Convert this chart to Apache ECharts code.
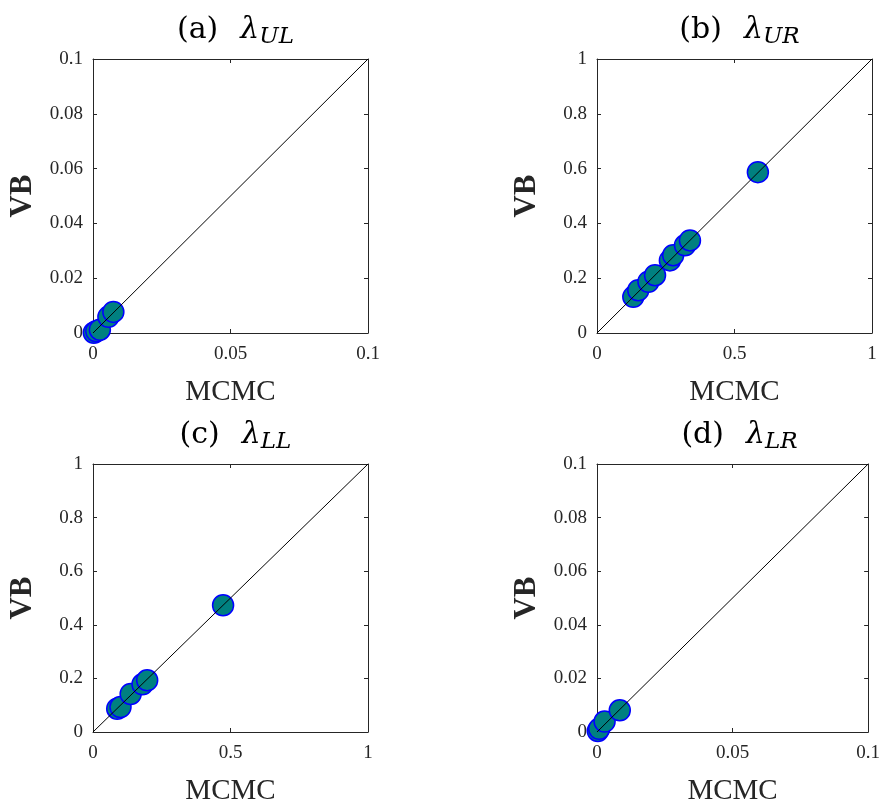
<!DOCTYPE html>
<html>
<head>
<meta charset="utf-8">
<script src="https://cdn.jsdelivr.net/npm/echarts@6/dist/echarts.min.js"></script>
<style>html,body{margin:0;padding:0;background:#fff}#c{width:883px;height:807px}</style>
</head>
<body>
<div id="c"></div>
<script>
// ---- data ----
const panelLetters = ['(a)', '(b)', '(c)', '(d)'];
const panelSubs = ['UL', 'UR', 'LL', 'LR'];
const axisMax = [0.1, 1, 1, 0.1];
const xTickStep = [0.05, 0.5, 0.5, 0.05];
const yTickStep = [0.02, 0.2, 0.2, 0.02];

const mcmcUL = [0.0003, 0.0012, 0.0025, 0.0056, 0.0074];
const vbUL   = [0.0001, 0.0006, 0.0012, 0.0059, 0.0077];

const mcmcUR = [0.132, 0.150, 0.187, 0.211, 0.265, 0.277, 0.320, 0.338, 0.585];
const vbUR   = [0.132, 0.156, 0.187, 0.211, 0.265, 0.284, 0.320, 0.338, 0.587];

const mcmcLL = [0.088, 0.100, 0.137, 0.180, 0.197, 0.473];
const vbLL   = [0.087, 0.093, 0.142, 0.178, 0.193, 0.473];

const mcmcLR = [0.0003, 0.0008, 0.0028, 0.0084];
const vbLR   = [0.0004, 0.0012, 0.0039, 0.0081];

const mcmcAll = [mcmcUL, mcmcUR, mcmcLL, mcmcLR];
const vbAll = [vbUL, vbUR, vbLL, vbLR];

// ---- layout ----
const grids = [
  {left: 93, top: 59, width: 275, height: 274},
  {left: 597, top: 59, width: 275, height: 274},
  {left: 93, top: 464, width: 275, height: 275},
  {left: 597, top: 464, width: 275, height: 275}
];

const axisCol = '#262626';
const serif = 'Liberation Serif';
const titleFont = 'DejaVu Serif';

const option = {
  animation: false,
  backgroundColor: '#fff',
  title: [], grid: [], xAxis: [], yAxis: [], series: []
};

function fmt(v) { return v === 0 ? '0' : String(+v.toFixed(3)); }

grids.forEach((g, i) => {
  option.grid.push(Object.assign({containLabel: false}, g));
  option.title.push({
    text: '{n|' + panelLetters[i] + '}{l|λ}{s|' + panelSubs[i] + '}',
    left: g.left + g.width / 2,
    top: g.top - 49,
    textAlign: 'center',
    textStyle: {
      fontWeight: 'normal',
      rich: {
        n: {fontFamily: titleFont, fontSize: 30, fontWeight: 'normal', color: '#000', lineHeight: 34, verticalAlign: 'top'},
        l: {fontFamily: titleFont, fontSize: 30, fontWeight: 'normal', fontStyle: 'italic', color: '#000', lineHeight: 34, verticalAlign: 'top', padding: [0, 0, 0, 22]},
        s: {fontFamily: titleFont, fontSize: 23, fontWeight: 'normal', fontStyle: 'italic', color: '#000', lineHeight: 22, verticalAlign: 'bottom'}
      }
    }
  });
  const m = axisMax[i];
  const baseAxisLine = {show: true, onZero: false, lineStyle: {color: axisCol, width: 1}};
  const tick = {show: true, inside: true, length: 4, lineStyle: {color: axisCol}};
  option.xAxis.push({
    type: 'value', gridIndex: i, min: 0, max: m, interval: xTickStep[i],
    position: 'bottom',
    axisLine: baseAxisLine, axisTick: tick, splitLine: {show: false},
    axisLabel: {fontFamily: serif, fontSize: 19, color: axisCol, margin: 12, formatter: fmt},
    name: 'MCMC', nameLocation: 'middle', nameGap: 45,
    nameTextStyle: {fontFamily: serif, fontSize: 29, color: axisCol}
  });
  option.xAxis.push({
    type: 'value', gridIndex: i, min: 0, max: m, interval: xTickStep[i],
    position: 'top',
    axisLine: baseAxisLine, axisTick: tick, splitLine: {show: false},
    axisLabel: {show: false}
  });
  option.yAxis.push({
    type: 'value', gridIndex: i, min: 0, max: m, interval: yTickStep[i],
    position: 'left',
    axisLine: baseAxisLine, axisTick: tick, splitLine: {show: false},
    axisLabel: {fontFamily: serif, fontSize: 19, color: axisCol, margin: 10, formatter: fmt},
    name: 'VB', nameLocation: 'middle', nameGap: 55, nameRotate: 90,
    nameTextStyle: {fontFamily: serif, fontSize: 31, fontWeight: 'bold', color: axisCol}
  });
  option.yAxis.push({
    type: 'value', gridIndex: i, min: 0, max: m, interval: yTickStep[i],
    position: 'right',
    axisLine: baseAxisLine, axisTick: tick, splitLine: {show: false},
    axisLabel: {show: false}
  });
  option.series.push({
    type: 'scatter', xAxisIndex: 2 * i, yAxisIndex: 2 * i,
    symbol: 'circle', symbolSize: 21,
    itemStyle: {color: '#008080', borderColor: '#0000ff', borderWidth: 1.5, opacity: 1},
    data: mcmcAll[i].map((x, k) => [x, vbAll[i][k]]),
    z: 2
  });
  option.series.push({
    type: 'line', xAxisIndex: 2 * i, yAxisIndex: 2 * i,
    symbol: 'none', lineStyle: {color: '#000', width: 1},
    data: [[0, 0], [m, m]],
    z: 3
  });
});

const chart = echarts.init(document.getElementById('c'));
chart.setOption(option);
</script>
</body>
</html>
